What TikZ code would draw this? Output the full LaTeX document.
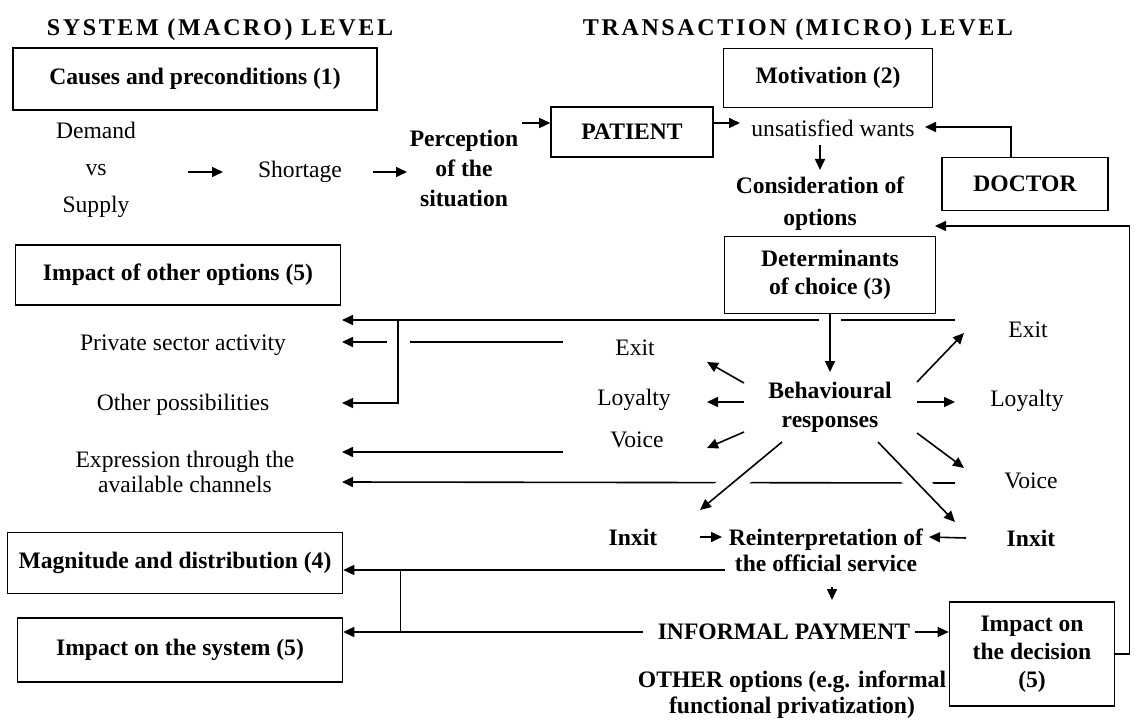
\documentclass[tikz,border=0pt]{standalone}
\usepackage{fontspec}
\setmainfont{Liberation Serif}
\usetikzlibrary{arrows.meta,calc}

\tikzset{
  txt/.style={font=\fontsize{11.8}{14}\selectfont, align=center, inner sep=0pt},
  btxt/.style={txt, font=\fontsize{11.8}{14}\selectfont\bfseries},
  box/.style={btxt, draw, line width=0.8pt},
  head/.style={font=\fontsize{12}{14}\selectfont\bfseries\addfontfeatures{LetterSpace=11}, inner sep=0pt},
  arr/.style={-{Triangle[length=5.5pt,width=5pt]}, line width=0.8pt},
  link/.style={line width=0.8pt},
  halo/.style={preaction={draw,white,line width=11pt,-,shorten <=2pt}},
}

\begin{document}
\begin{tikzpicture}[x=0.5pt,y=-0.5pt]
\useasboundingbox (0,0) rectangle (1136,722);
% headings
\node[head] (sysH) at (220,30) {SYSTEM (MACRO) LEVEL};
\node[head] (traH) at (798,30) {TRANSACTION (MICRO) LEVEL};
% macro level, top row
\node[box, minimum width=182pt, minimum height=31pt] (causes) at (195,79) {Causes and preconditions (1)};
\node[txt] (demand) at (96,170) {Demand\\[4.5pt]vs\\[4.5pt]Supply};
\node[txt] (shortage) at (300,172) {Shortage};
\node[btxt] (percep) at (464,168) {Perception\\[1pt]of the\\[1pt]situation};
% micro level, top row
\node[box, minimum width=104.5pt, minimum height=29.5pt] (motiv) at (828,78) {Motivation (2)};
\node[box, minimum width=81pt, minimum height=25pt] (patient) at (632,132) {PATIENT};
\node[txt] (wants) at (833,128) {unsatisfied wants};
\node[box, minimum width=83pt, minimum height=26.5pt] (doctor) at (1025,184) {DOCTOR};
\node[btxt] (consid) at (820,204) {Consideration of\\[2pt]options};
\node[box, minimum width=105.5pt, minimum height=38.5pt] (determ) at (830,275) {Determinants\\of choice (3)};
% left column
\node[box, minimum width=162.5pt, minimum height=30pt] (impother) at (178,275) {Impact of other options (5)};
\node[txt] (private) at (183,345) {Private sector activity};
\node[txt] (otherposs) at (183,405) {Other possibilities};
\node[txt] (express) at (185,472) {Expression through the\\[-1.5pt]available channels};
\node[box, minimum width=167.5pt, minimum height=30.5pt] (magn) at (175,563) {Magnitude and distribution (4)};
\node[box, minimum width=162.5pt, minimum height=32pt] (impsys) at (180,650) {Impact on the system (5)};
% responses
\node[txt] (exitL) at (635,348) {Exit};
\node[txt] (loyL) at (634,400) {Loyalty};
\node[txt] (voiceL) at (637,440) {Voice};
\node[btxt] (behav) at (830,407) {Behavioural\\[0.5pt]responses};
\node[txt] (exitR) at (1028,330) {Exit};
\node[txt] (loyR) at (1027,401) {Loyalty};
\node[txt] (voiceR) at (1031,481) {Voice};
\node[btxt] (inxitL) at (633,537) {Inxit};
\node[btxt] (inxitR) at (1031,538) {Inxit};
\node[btxt] (reinterp) at (826,550) {Reinterpretation of\\[-1pt]the official service};
\node[btxt] (informal) at (784,632) {INFORMAL PAYMENT};
\node[box, minimum width=82.5pt, minimum height=52pt] (decision) at (1032,654) {Impact on\\the decision\\(5)};
\node[btxt] (otheropt) at (792,695) {OTHER options (e.g. informal\\[-1pt]functional privatization)};

% top row arrows
\draw[arr] ($(demand)+(92,2)$) -- ($(shortage)+(-77,0)$);
\draw[arr] ($(shortage)+(73,0)$) -- ($(percep)+(-57,4)$);
\draw[arr] ($(percep)+(58,-45)$) -- ($(patient.west)+(0,-9)$);
\draw[arr] ($(patient.east)+(0,-9)$) -- ($(wants)+(-93,-5)$);
\draw[arr] ($(doctor.north)+(-14,0)$) |- ($(wants)+(92,-1)$);
\draw[arr] ($(wants)+(-13,17)$) -- ($(consid)+(0,-34)$);
\draw[arr] (decision.east) -- ++(14,0) |- ($(consid)+(115,22)$);

% lines back to the system level
\draw[arr] ($(exitR)+(-73,-10)$) -- ($(private)+(159,-25)$);
\draw[arr] ($(exitL)+(-72,-6)$) -- ($(private)+(159,-3)$);
\fill[white] ($(private)+(204,-8)$) rectangle ($(private)+(227,2)$);
\draw[arr] ($(private)+(215,-25)$) |- ($(otherposs)+(159,-2)$);
\draw[arr] ($(voiceL)+(-74,12)$) -- ($(express)+(157,-20)$);
\draw[arr] ($(voiceR)+(-76,2)$) -- ($(express)+(157,10)$);
\draw[arr] ($(reinterp)+(-101,20)$) -- ($(magn.east)+(0,7)$);
\draw[arr] ($(informal)+(-141,0)$) -- ($(impsys.east)+(0,-18)$);
\draw[link] ($(magn.east)+(57,7)$) -- ($(impsys.east)+(57,-18)$);

% behavioural responses
\draw[arr, halo] (determ.south) -- ($(behav)+(0,-35)$);
\foreach \sx/\sy/\n/\tx/\ty in {-86/-24/exitL/72/14, -86/-5/loyL/73/2, -86/25/voiceL/70/8,
    87/-25/exitR/-64/3, 87/-5/loyR/-72/1, 87/26/voiceR/-67/-13}
  \draw[arr] ($(behav)+(\sx,\sy)$) -- ($(\n)+(\tx,\ty)$);
\draw[arr, halo] ($(behav)+(-48,35)$) -- ($(inxitL)+(67,-27)$);
\draw[arr, halo] ($(behav)+(48,35)$) -- ($(reinterp)+(129,-28)$);

% bottom
\draw[arr] ($(inxitL)+(67,0)$) -- ($(reinterp)+(-104,-13)$);
\draw[arr] ($(inxitR)+(-65,0)$) -- ($(reinterp)+(103,-13)$);
\draw[arr] ($(reinterp)+(6,37)$) -- ($(informal)+(48,-32)$);
\draw[arr] ($(informal)+(131,0)$) -- ($(decision.west)+(0,-22)$);
\end{tikzpicture}
\end{document}
